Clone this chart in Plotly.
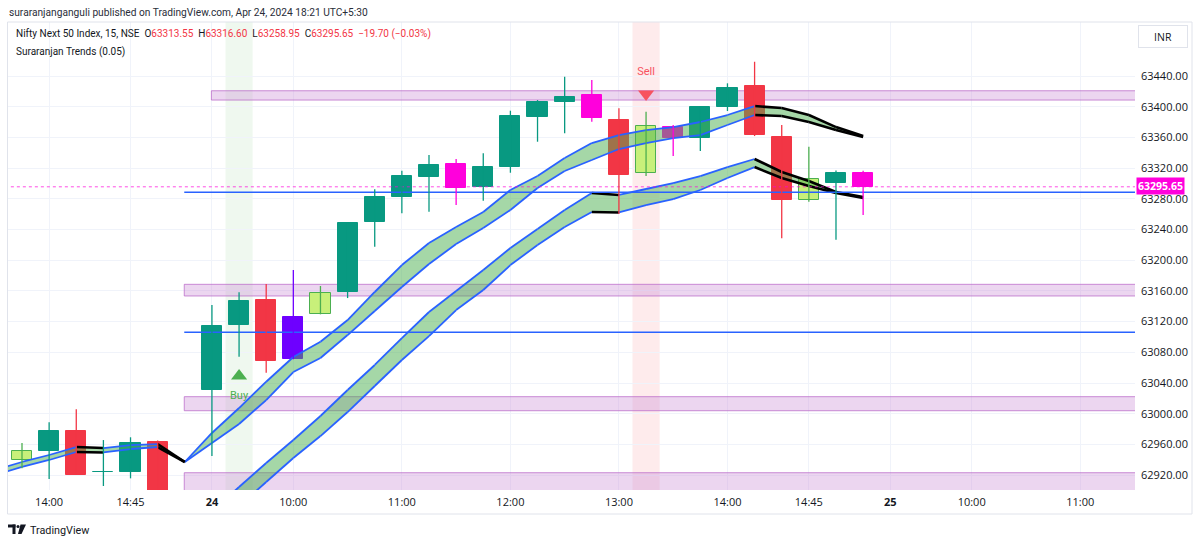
import plotly.graph_objects as go

# ---------------- data ----------------
bar_index = list(range(32))
bar_time = ["13:45", "14:00", "14:15", "14:30", "14:45", "15:00", "15:15",
            "09:15", "09:30", "09:45", "10:00", "10:15", "10:30", "10:45", "11:00",
            "11:15", "11:30", "11:45", "12:00", "12:15", "12:30", "12:45", "13:00",
            "13:15", "13:30", "13:45", "14:00", "14:15", "14:30", "14:45", "15:00", "15:15"]
opens = [62939.3, 62951.0, 62977.5, 62923.7, 62923.7, 62963.5, None,
         63030.9, 63115.6, 63148.1, 63126.4, 63129.5, 63158.2, 63249.4, 63282.7,
         63308.0, 63325.0, 63295.0, 63321.0, 63386.2, 63405.7, 63415.2, 63382.7,
         63314.0, 63373.2, 63358.8, 63400.0, 63427.0, 63360.9, 63278.4, 63301.0, 63313.55]
highs = [62962.0, 62989.0, 63005.7, 62965.7, 62969.3, 62965.0, None,
         63141.6, 63158.2, 63169.0, 63187.2, 63166.4, 63249.0, 63292.4, 63316.6,
         63337.0, 63331.9, 63339.3, 63394.8, 63408.7, 63439.0, 63434.8, 63397.9,
         63393.5, 63376.2, 63400.9, 63430.5, 63458.6, 63376.2, 63347.9, 63316.9, 63316.60]
lows = [62929.0, 62915.0, 62920.0, 62905.8, 62915.8, 62890.0, None,
        62944.9, 63074.3, 63053.4, 63070.9, 63129.5, 63150.7, 63217.6, 63261.1,
        63263.2, 63271.9, 63277.5, 63314.0, 63354.4, 63365.3, 63380.5, 63260.2,
        63309.7, 63335.8, 63342.3, 63394.4, 63361.8, 63228.5, 63276.2, 63226.7, 63258.95]
closes = [62951.0, 62977.5, 62920.0, 62924.5, 62961.4, 62895.0, None,
          63114.7, 63146.4, 63069.1, 63070.9, 63156.9, 63248.1, 63282.7, 63310.1,
          63324.0, 63293.7, 63321.8, 63388.3, 63405.7, 63413.0, 63384.9, 63311.0,
          63374.9, 63358.8, 63400.0, 63424.0, 63363.1, 63278.4, 63305.4, 63313.6, 63295.65]
candle_kind = ["up_alt", "up", "down", "up", "up", "down", None,
               "up", "up", "down", "special", "up_alt", "up", "up", "up",
               "up", "down_alt", "up", "up", "up", "up", "down_alt", "down",
               "up_alt", "down_alt", "up", "up", "down", "down", "up_alt", "up", "down_alt"]

# Suraranjan Trends ribbons
ribbon_a_x = list(range(-1, 32))
ribbon_a_upper = [62926.6, 62937.1, 62946.2, 62956.6, 62955.3, 62959.2, 62960.5, 62937.1,
                  62974.9, 63007.4, 63041.7, 63073.9, 63093.8, 63122.1, 63158.6, 63193.7,
                  63222.4, 63243.3, 63262.8, 63291.5, 63309.7, 63333.2, 63352.7, 63363.1,
                  63369.6, 63373.5, 63380.1, 63389.2, 63400.9, 63398.3, 63389.2, 63373.5, 63361.8]
ribbon_a_lower = [62920.1, 62930.6, 62939.7, 62950.1, 62949.5, 62954.0, 62956.6, 62937.1,
                  62961.8, 62986.6, 63017.8, 63054.3, 63072.6, 63102.5, 63133.8, 63165.1,
                  63195.0, 63221.1, 63242.0, 63265.4, 63294.1, 63316.2, 63330.6, 63344.9,
                  63352.7, 63359.2, 63363.1, 63376.2, 63389.2, 63387.9, 63380.1, 63369.6, 63360.5]
ribbon_b_x = list(range(6, 32))
ribbon_b_upper = [62841.9, 62873.2, 62904.5, 62935.8, 62965.7, 62997.0, 63030.9, 63063.5,
                  63098.6, 63132.5, 63159.9, 63187.2, 63215.9, 63240.7, 63265.4, 63287.6,
                  63285.0, 63292.8, 63300.6, 63309.7, 63321.4, 63331.9, 63314.9, 63303.2,
                  63288.9, 63282.3]
ribbon_b_lower = [62815.9, 62848.5, 62879.7, 62911.0, 62942.3, 62970.9, 63002.2, 63036.1,
                  63070.0, 63101.2, 63135.1, 63161.2, 63193.7, 63219.8, 63243.3, 63262.8,
                  63262.2, 63271.9, 63279.7, 63291.5, 63307.1, 63321.4, 63307.1, 63296.7,
                  63287.6, 63281.0]

# supply / demand zones
zone_start = [7, 6, 6, 6]
zone_top = [63420.8, 63168.6, 63022.2, 62923.1]
zone_bottom = [63408.7, 63153.4, 63003.9, 62870.0]
# horizontal levels
level_start = [6, 6]
level_price = [63288.5, 63106.1]
# signals
buy_bar, buy_price, buy_text_price = 8, 63049.0, 63023.0
sell_bar, sell_price, sell_text_price = 23, 63416.5, 63445.0
last_price = 63295.65

# axes
x_tick_vals = [1, 4, 7, 10, 14, 18, 22, 26, 29, 32, 35, 39]
x_tick_text = ["14:00", "14:45", "<b>24</b>", "10:00", "11:00", "12:00", "13:00",
               "14:00", "14:45", "<b>25</b>", "10:00", "11:00"]
y_tick_vals = [62920 + 40 * i for i in range(14)]
x_range = [-0.516, 41.02]
y_range = [62900.6, 63510.4]

# ---------------- style ----------------
FONT = "Open Sans"
TFONT = "Roboto"
TXT = "#131722"
BLUE = "#2962ff"
kind_fill = {"up": "#089981", "down": "#f23645", "up_alt": "#c8f07a",
             "down_alt": "#ff00dc", "special": "#6e00ff"}
kind_line = {"up": "#089981", "down": "#f23645", "up_alt": "#4caf50",
             "down_alt": "#ff00dc", "special": "#6e00ff"}

L, R, T, B = 8, 65, 22, 54
W, H = 1200, 544
PW, PH = W - L - R, H - T - B


def px(xp):
    return (xp - L) / PW


def py(yp):
    return (H - B - yp) / PH


fig = go.Figure()

# highlight columns for signals
shapes = []
for bar, col in ((buy_bar, "rgba(76,175,80,0.09)"), (sell_bar, "rgba(242,54,69,0.10)")):
    shapes.append(dict(type="rect", xref="x", yref="paper", x0=bar - 0.5, x1=bar + 0.5,
                       y0=0, y1=1, fillcolor=col, line=dict(width=0), layer="between"))
# zones
for s, t, b in zip(zone_start, zone_top, zone_bottom):
    shapes.append(dict(type="rect", xref="x", yref="y", x0=s - 0.02, x1=x_range[1] + 0.5,
                       y0=b, y1=t, fillcolor="rgba(206,147,216,0.38)",
                       line=dict(color="rgba(186,104,200,0.75)", width=1), layer="between"))

# ribbons fill
for xs, up, lo in ((ribbon_a_x, ribbon_a_upper, ribbon_a_lower),
                   (ribbon_b_x, ribbon_b_upper, ribbon_b_lower)):
    fig.add_trace(go.Scatter(x=xs, y=lo, mode="lines", line=dict(width=0), hoverinfo="skip"))
    fig.add_trace(go.Scatter(x=xs, y=up, mode="lines", line=dict(width=0), fill="tonexty",
                             fillcolor="rgba(76,175,80,0.5)", hoverinfo="skip"))

# ribbon edge lines: blue rising, black falling
for xs, up, lo in ((ribbon_a_x, ribbon_a_upper, ribbon_a_lower),
                   (ribbon_b_x, ribbon_b_upper, ribbon_b_lower)):
    bx, by, kx, ky = [], [], [], []
    for i in range(len(xs) - 1):
        rising = (up[i + 1] + lo[i + 1]) >= (up[i] + lo[i])
        tx, ty = (bx, by) if rising else (kx, ky)
        for ys in (up, lo):
            tx += [xs[i], xs[i + 1], None]
            ty += [ys[i], ys[i + 1], None]
    fig.add_trace(go.Scatter(x=bx, y=by, mode="lines", line=dict(color=BLUE, width=1.8),
                             hoverinfo="skip"))
    fig.add_trace(go.Scatter(x=kx, y=ky, mode="lines", line=dict(color="#000000", width=2.6),
                             hoverinfo="skip"))

# horizontal levels
for s, p in zip(level_start, level_price):
    fig.add_trace(go.Scatter(x=[s - 0.02, x_range[1] + 0.5], y=[p, p], mode="lines",
                             line=dict(color=BLUE, width=1.5), hoverinfo="skip"))

# last price dotted line
fig.add_trace(go.Scatter(x=[x_range[0] - 1, x_range[1] + 1], y=[last_price, last_price],
                         mode="lines", line=dict(color="rgba(255,0,220,0.7)", width=1, dash="dot"),
                         hoverinfo="skip"))

# candle wicks
for kind in kind_fill:
    wx, wy = [], []
    for i, k in enumerate(candle_kind):
        if k == kind:
            wx += [bar_index[i], bar_index[i], None]
            wy += [lows[i], highs[i], None]
    fig.add_trace(go.Scatter(x=wx, y=wy, mode="lines",
                             line=dict(color=kind_line[kind], width=1.3), hoverinfo="skip"))

# candle bodies
bx, bh, bb, bc, bl = [], [], [], [], []
for i, k in enumerate(candle_kind):
    if k is None:
        continue
    bx.append(bar_index[i])
    bh.append(abs(closes[i] - opens[i]))
    bb.append(min(opens[i], closes[i]))
    bc.append(kind_fill[k])
    bl.append(kind_line[k])
fig.add_trace(go.Bar(x=bx, y=bh, base=bb, width=0.74,
                     marker=dict(color=bc, line=dict(color=bl, width=1)), hoverinfo="skip"))

# buy / sell markers
fig.add_trace(go.Scatter(x=[buy_bar], y=[buy_price], mode="markers",
                         marker=dict(symbol="triangle-up", size=14, color="#4caf50")))
fig.add_trace(go.Scatter(x=[sell_bar], y=[sell_price], mode="markers",
                         marker=dict(symbol="triangle-down", size=14, color="#f7525f")))
fig.add_trace(go.Scatter(x=[buy_bar], y=[buy_text_price], mode="text", text=["Buy"],
                         textfont=dict(family=TFONT, size=11, color="#4caf50")))
fig.add_trace(go.Scatter(x=[sell_bar], y=[sell_text_price], mode="text", text=["Sell"],
                         textfont=dict(family=TFONT, size=11, color="#f7525f")))

# frame + logo shapes
shapes.append(dict(type="rect", xref="paper", yref="paper", x0=px(7.5), x1=px(1192),
                   y0=py(514), y1=py(22), line=dict(color="#e0e3eb", width=1),
                   fillcolor="rgba(0,0,0,0)", layer="above"))
logo = TXT
shapes += [
    dict(type="rect", xref="paper", yref="paper", x0=px(8), x1=px(15.5), y0=py(527.5),
         y1=py(524.5), fillcolor=logo, line=dict(width=0)),
    dict(type="rect", xref="paper", yref="paper", x0=px(12.5), x1=px(15.5), y0=py(534),
         y1=py(524.5), fillcolor=logo, line=dict(width=0)),
    dict(type="circle", xref="paper", yref="paper", x0=px(16.5), x1=px(19.5), y0=py(528),
         y1=py(525), fillcolor=logo, line=dict(width=0)),
    dict(type="path", xref="paper", yref="paper",
         path=f"M {px(20.5)} {py(524.5)} L {px(26)} {py(524.5)} L {px(21.5)} {py(534)} "
              f"L {px(18)} {py(534)} Z", fillcolor=logo, line=dict(width=0)),
]

ann = []
ann.append(dict(xref="paper", yref="paper", x=px(7), y=py(12), xanchor="left",
                yanchor="middle", showarrow=False,
                text="suraranjanganguli published on TradingView.com, Apr 24, 2024 18:21 UTC+5:30",
                font=dict(family=TFONT, size=10.2, color="#2a2e39")))
red = "#f23645"
legend_txt = ("Nifty Next 50 Index, 15, NSE&nbsp; O<span style='color:%s'>63313.55</span>"
              "&nbsp; H<span style='color:%s'>63316.60</span>"
              "&nbsp; L<span style='color:%s'>63258.95</span>"
              "&nbsp; C<span style='color:%s'>63295.65&nbsp; −19.70 (−0.03%%)</span>"
              % (red, red, red, red))
ann.append(dict(xref="paper", yref="paper", x=px(14), y=py(34), xanchor="left",
                yanchor="middle", showarrow=False, text=legend_txt,
                font=dict(family=TFONT, size=10, color=TXT)))
ann.append(dict(xref="paper", yref="paper", x=px(14), y=py(52), xanchor="left",
                yanchor="middle", showarrow=False, text="Suraranjan Trends (0.05)",
                font=dict(family=TFONT, size=10, color=TXT)))
ann.append(dict(xref="paper", yref="paper", x=px(1162.5), y=py(36.5), xanchor="center",
                yanchor="middle", showarrow=False, text="INR", width=42, height=15,
                bordercolor="#e0e3eb", borderwidth=1, borderpad=3, bgcolor="white",
                font=dict(family=FONT, size=10.5, color=TXT)))
ann.append(dict(xref="paper", yref="y", x=1.0, xshift=1, y=last_price, yshift=1,
                xanchor="left", yanchor="middle", showarrow=False,
                text="<b>%.2f</b>" % last_price,
                bgcolor="#ff00dc", borderpad=1,
                font=dict(family=FONT, size=10.5, color="white")))
ann.append(dict(xref="paper", yref="paper", x=px(28), y=py(530), xanchor="left",
                yanchor="middle", showarrow=False, text="TradingView",
                font=dict(family=TFONT, size=10.8, color=TXT)))

fig.update_layout(
    width=W, height=H, margin=dict(l=L, r=R, t=T, b=B),
    paper_bgcolor="white", plot_bgcolor="white", showlegend=False,
    barmode="overlay", bargap=0, shapes=shapes, annotations=ann,
    font=dict(family=FONT, size=11, color=TXT),
    xaxis=dict(range=x_range, tickmode="array", tickvals=x_tick_vals, ticktext=x_tick_text,
               showgrid=True, gridcolor="#f0f3fa", gridwidth=1, zeroline=False,
               showline=False, ticks="", tickfont=dict(family=FONT, size=11, color=TXT),
               ticklabelstandoff=4, fixedrange=True),
    yaxis=dict(range=y_range, side="right", tickmode="array", tickvals=y_tick_vals,
               ticktext=["%.2f" % v for v in y_tick_vals], showgrid=True,
               gridcolor="#f0f3fa", gridwidth=1, zeroline=False, showline=False,
               ticks="", tickfont=dict(family=FONT, size=11, color=TXT),
               ticklabelstandoff=5, fixedrange=True),
)

fig.write_html("out.html")
